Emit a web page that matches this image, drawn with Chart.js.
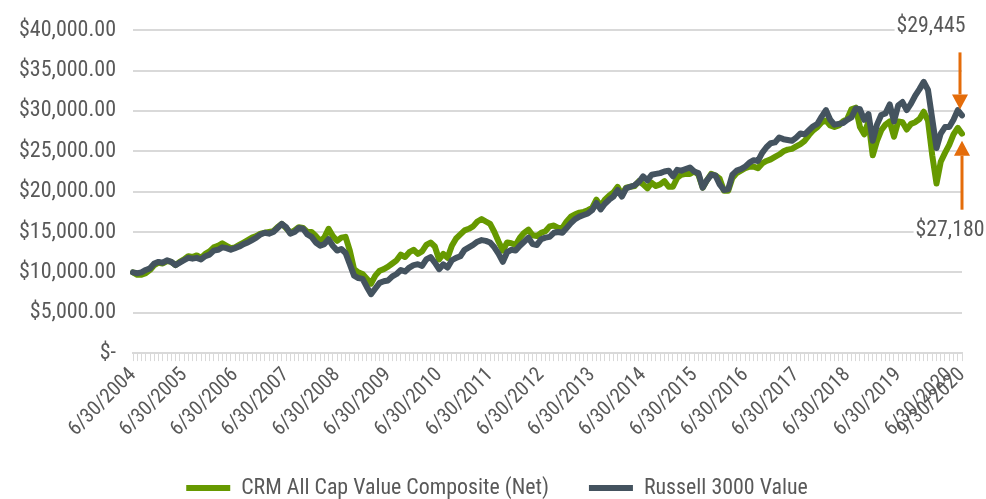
<!DOCTYPE html>
<html>
<head>
<meta charset="utf-8">
<script src="https://cdn.jsdelivr.net/npm/chart.js@4.4.1/dist/chart.umd.min.js"></script>
<style>
  html, body { margin: 0; padding: 0; background: #fff; }
  #wrap { width: 986px; height: 499px; }
</style>
</head>
<body>
<div id="wrap"><canvas id="canvas"></canvas></div>
<script>
// monthly growth of $10,000, 6/30/2004 .. 9/30/2020
const startYear = 2004;
const startMonth = 6;
const monthCount = 196;

const seriesNames = ["CRM All Cap Value Composite (Net)", "Russell 3000 Value"];

const xTickLabels = [
  "6/30/2004", "6/30/2005", "6/30/2006", "6/30/2007", "6/30/2008", "6/30/2009",
  "6/30/2010", "6/30/2011", "6/30/2012", "6/30/2013", "6/30/2014", "6/30/2015",
  "6/30/2016", "6/30/2017", "6/30/2018", "6/30/2019", "6/30/2020", "9/30/2020"
];

const yTickLabels = [
  "$-", "$5,000.00", "$10,000.00", "$15,000.00", "$20,000.00",
  "$25,000.00", "$30,000.00", "$35,000.00", "$40,000.00"
];

const crmValues = [
  10000, 9700, 9700, 9900, 10300, 10900, 11200, 11100, 11400, 11300, 10900, 11300,
  11600, 12000, 11900, 12100, 11800, 12300, 12600, 13100, 13300, 13600, 13300, 13000,
  13100, 13400, 13700, 14000, 14300, 14500, 14800, 14900, 15000, 15100, 15600, 16000,
  15500, 14900, 15200, 15600, 15500, 15000, 15000, 14500, 13900, 14300, 15400, 14500,
  13900, 14300, 14400, 12700, 10400, 10000, 9800, 9200, 8600, 9600, 10200, 10400,
  10700, 11100, 11500, 12200, 11900, 12500, 12800, 12300, 12600, 13400, 13700, 13200,
  11600, 12300, 11800, 13300, 14200, 14700, 15200, 15400, 15700, 16300, 16600, 16300,
  16000, 15000, 13800, 12700, 13700, 13600, 13400, 14300, 14900, 15300, 14600, 14500,
  14900, 15100, 15700, 15800, 15500, 15500, 16300, 16900, 17200, 17400, 17500, 17700,
  18000, 19000, 18200, 19000, 19500, 19900, 20600, 19600, 20500, 20600, 20700, 21300,
  20900, 20400, 21100, 20700, 20900, 21300, 20600, 20600, 21700, 22100, 22200, 22200,
  22500, 22100, 20500, 21400, 22200, 22000, 21600, 20100, 20100, 21700, 22300, 22600,
  22900, 23100, 23100, 22900, 23500, 23800, 24000, 24300, 24600, 25000, 25200, 25300,
  25600, 25900, 26300, 27000, 27600, 28000, 28600, 28800, 28200, 28000, 28200, 28700,
  29000, 30200, 30400, 28000, 27100, 28700, 24500, 26300, 27600, 28300, 28700, 26800,
  28700, 28600, 27700, 28400, 28600, 29000, 29900, 28800, 24500, 21000, 23700, 24800,
  25800, 27100, 27900, 27180
];

const russellValues = [
  10000, 9900, 10000, 10300, 10500, 11100, 11300, 11200, 11500, 11300, 10900, 11200,
  11500, 11800, 11700, 11800, 11600, 12000, 12200, 12700, 12800, 13100, 13000, 12800,
  13000, 13200, 13500, 13700, 14000, 14300, 14700, 14900, 14800, 15000, 15500, 16000,
  15600, 14800, 15000, 15500, 15400, 14700, 14400, 13700, 13300, 13500, 14100, 13300,
  12700, 12900, 12400, 11000, 9600, 9300, 9200, 8200, 7300, 8000, 8700, 8900,
  9000, 9500, 9800, 10300, 10100, 10600, 10900, 11000, 10800, 11600, 11900, 11200,
  10400, 11000, 10600, 11500, 11800, 12000, 12800, 13100, 13400, 13800, 14000, 13900,
  13700, 13100, 12300, 11300, 12500, 12800, 12700, 13300, 13800, 14300, 13500, 13400,
  14100, 14300, 14400, 14900, 15000, 14900, 15500, 16100, 16600, 16900, 17100, 17300,
  17700, 18600, 17800, 18500, 19000, 19400, 20200, 19400, 20400, 20600, 20800, 21200,
  21900, 21400, 22100, 22200, 22300, 22500, 22600, 21900, 22700, 22600, 22800, 23000,
  22500, 22300, 20500, 21400, 22100, 22000, 20900, 20200, 20300, 22100, 22600, 22800,
  23100, 23600, 23900, 23800, 24800, 25500, 26000, 26100, 26700, 26500, 26400, 26300,
  26700, 27200, 27100, 27600, 28100, 28400, 29300, 30100, 28900, 28300, 28400, 28500,
  28900, 29200, 30300, 30200, 28900, 29600, 26300, 28300, 29500, 29700, 30800, 28700,
  30700, 31100, 30100, 30900, 31900, 32700, 33600, 32600, 29000, 25400, 27200, 28000,
  28000, 28900, 30100, 29445
];

const colors = {
  green: "#669900",
  slate: "#44535F",
  orange: "#E46C0A",
  text: "#595959",
  grid: "#D9D9D9",
};

// month-end dates as category labels
let monthLabels = [];
for (let i = 0; i < monthCount; i++) {
  let m = startMonth - 1 + i;
  let y = startYear + Math.floor(m / 12);
  let mm = (m % 12) + 1;
  let last = new Date(y, mm, 0).getDate();
  monthLabels.push(mm + "/" + last + "/" + y);
}

// the original uses a narrow typeface; take the first condensed one installed
let probe = document.createElement("canvas").getContext("2d");
function hasFont(name) {
  let s = "mmmmmmmmmwwwlli1234567890$,.";
  for (let base of ["monospace", "serif"]) {
    probe.font = "40px " + base;
    let a = probe.measureText(s).width;
    probe.font = "40px '" + name + "', " + base;
    if (probe.measureText(s).width !== a) return true;
  }
  return false;
}
let family = "'Liberation Sans', Arial, sans-serif";
for (let f of ["Liberation Sans Narrow", "Roboto Condensed", "DejaVu Sans Condensed", "Noto Sans Condensed", "Arial Narrow"]) {
  if (hasFont(f)) { family = "'" + f + "', " + family; break; }
}

// size each text group so its width matches the original
function fitSize(text, target, maxSize) {
  probe.font = "20px " + family;
  let w = probe.measureText(text).width;
  return Math.min(maxSize, Math.round(20 * target / w * 10) / 10);
}
const yTickSize = fitSize("$40,000.00", 97, 22);
const xTickSize = fitSize("6/30/2005", 86, 22);
const legendSize = fitSize(seriesNames[0], 308, 23);
const noteSize = fitSize("$29,445", 69, 24);

Chart.defaults.font.family = family;
Chart.defaults.color = colors.text;

function money(v) {
  return "$" + v.toLocaleString("en-US");
}

function drawArrow(ctx, x, yFrom, yTo) {
  let dir = yTo > yFrom ? 1 : -1;
  let headLen = 15;
  ctx.strokeStyle = colors.orange;
  ctx.fillStyle = colors.orange;
  ctx.lineWidth = 3;
  ctx.beginPath();
  ctx.moveTo(x, yFrom);
  ctx.lineTo(x, yTo - dir * headLen);
  ctx.stroke();
  ctx.beginPath();
  ctx.moveTo(x, yTo);
  ctx.lineTo(x - 8, yTo - dir * headLen);
  ctx.lineTo(x + 8, yTo - dir * headLen);
  ctx.closePath();
  ctx.fill();
}

function drawLabel(ctx, text, cx, cy) {
  ctx.font = noteSize + "px " + family;
  let w = ctx.measureText(text).width;
  ctx.fillStyle = "#fff";
  ctx.fillRect(cx - w / 2 - 2, cy - 13, w + 4, 26);
  ctx.fillStyle = colors.text;
  ctx.textAlign = "center";
  ctx.textBaseline = "middle";
  ctx.fillText(text, cx, cy);
}

const endArrows = {
  id: "endArrows",
  afterDatasetsDraw(chart) {
    let ctx = chart.ctx;
    let xs = chart.scales.x;
    let ys = chart.scales.y;
    let n = monthCount - 1;
    let x = xs.getPixelForValue(n);
    let yR = ys.getPixelForValue(russellValues[n]);
    let yC = ys.getPixelForValue(crmValues[n]);
    ctx.save();
    drawArrow(ctx, x - 2, yR - 63, yR - 6);
    drawArrow(ctx, x, yC + 76, yC + 7);
    drawLabel(ctx, money(russellValues[n]), x - 31, yR - 89);
    drawLabel(ctx, money(crmValues[n]), x - 12, yC + 97);
    ctx.restore();
  },
};

let ctx = document.getElementById("canvas").getContext("2d");
let chart = new Chart(ctx, {
  type: "line",
  data: {
    labels: monthLabels,
    datasets: [
      {
        label: seriesNames[0],
        data: crmValues,
        borderColor: colors.green,
        backgroundColor: colors.green,
        borderWidth: 6,
        pointRadius: 0,
        borderJoinStyle: "round",
        borderCapStyle: "round",
        order: 1,
      },
      {
        label: seriesNames[1],
        data: russellValues,
        borderColor: colors.slate,
        backgroundColor: colors.slate,
        borderWidth: 6,
        pointRadius: 0,
        borderJoinStyle: "round",
        borderCapStyle: "round",
        order: 0,
      },
    ],
  },
  options: {
    responsive: true,
    maintainAspectRatio: false,
    animation: false,
    layout: {
      padding: { top: 0, right: 0, bottom: -10, left: 8 },
    },
    plugins: {
      tooltip: { enabled: false },
      legend: {
        position: "bottom",
        labels: {
          usePointStyle: true,
          pointStyle: "line",
          pointStyleWidth: 44,
          padding: 40,
          color: colors.text,
          font: { size: legendSize },
          sort: (a, b) => a.datasetIndex - b.datasetIndex,
        },
      },
    },
    scales: {
      x: {
        afterFit: (scale) => { scale.height = 84; },
        grid: {
          drawOnChartArea: false,
          drawTicks: true,
          tickLength: 8,
          color: colors.grid,
          lineWidth: 1,
        },
        border: { color: colors.grid, width: 2 },
        ticks: {
          autoSkip: false,
          minRotation: 45,
          maxRotation: 45,
          padding: 2,
          color: colors.text,
          font: { size: xTickSize },
          callback: function (val) {
            let lab = this.getLabelForValue(val);
            return xTickLabels.includes(lab) ? lab : "";
          },
        },
      },
      y: {
        min: 0,
        max: 40000,
        afterFit: (scale) => { scale.width = 125; },
        grid: { color: colors.grid, lineWidth: 2, drawTicks: false },
        border: { display: false },
        ticks: {
          stepSize: 5000,
          padding: 17,
          color: colors.text,
          font: { size: yTickSize },
          callback: (v) => yTickLabels[Math.round(v / 5000)],
        },
      },
      // empty strip on the right so the plot ends where the original does
      gutter: {
        position: "right",
        grid: { display: false },
        border: { display: false },
        ticks: { display: false },
        afterFit: (scale) => { scale.width = 24; },
      },
    },
  },
  plugins: [endArrows],
});
</script>
</body>
</html>
